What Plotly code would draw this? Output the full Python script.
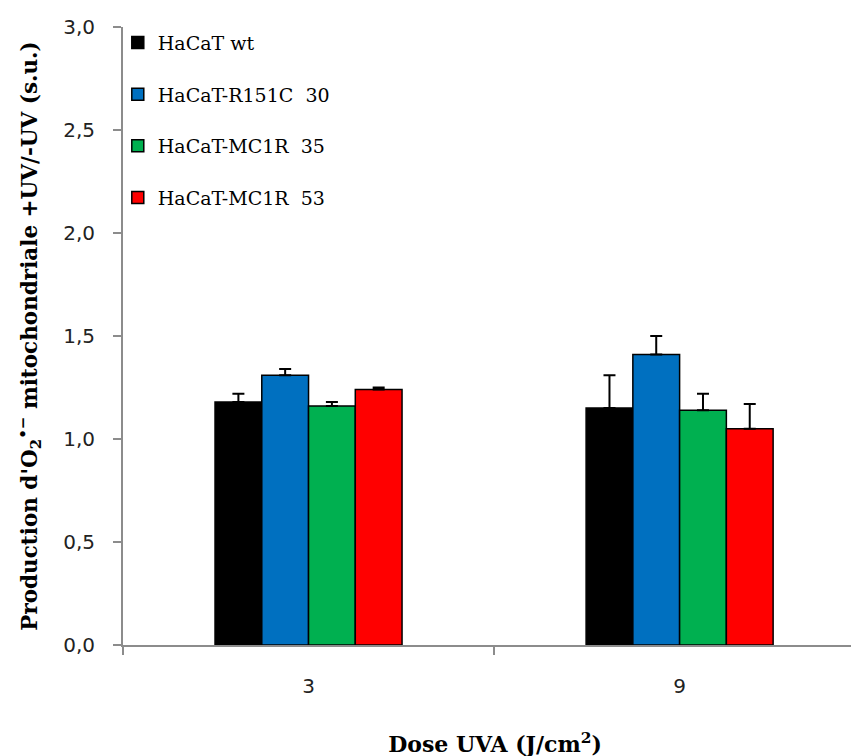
import plotly.graph_objects as go

categories = ["3", "9"]
series_names = ["HaCaT wt", "HaCaT-R151C  30", "HaCaT-MC1R  35", "HaCaT-MC1R  53"]
colors = ["#000000", "#0070C0", "#00B050", "#FF0000"]
values = [
    [1.18, 1.15],
    [1.31, 1.41],
    [1.16, 1.14],
    [1.24, 1.05],
]
errors = [
    [0.04, 0.16],
    [0.03, 0.09],
    [0.02, 0.08],
    [0.01, 0.12],
]

fig = go.Figure()
for i, name in enumerate(series_names):
    fig.add_trace(go.Bar(
        x=categories, y=values[i], name=name,
        marker=dict(color=colors[i], line=dict(color="#000000", width=1.5)),
        error_y=dict(type="data", array=errors[i], arrayminus=[0, 0], symmetric=False,
                     color="#000000", thickness=2, width=6),
        legendgroup=f"g{i}",
    ))

serif = "DejaVu Serif"
tickfont = dict(family="DejaVu Sans", size=20, color="#222222")
fig.update_layout(
    width=859, height=756,
    margin=dict(l=115, r=0, t=19, b=119),
    paper_bgcolor="white", plot_bgcolor="white",
    barmode="group", bargap=0.496, bargroupgap=0,
    separators=", ",
    showlegend=True,
    legend=dict(x=-0.007, y=1.0055, xanchor="left", yanchor="top",
                font=dict(family=serif, size=19, color="#000000"),
                tracegroupgap=24, itemwidth=30, bgcolor="rgba(0,0,0,0)"),
    xaxis=dict(
        type="category", range=[-0.5, 1.505], automargin=False,
        showline=True, linecolor="#8c8c8c", linewidth=2,
        ticks="outside", tickson="boundaries", ticklen=8, tickcolor="#8c8c8c", tickwidth=2,
        tickfont=tickfont, ticklabelstandoff=22,
        showgrid=False, zeroline=False,
        title=dict(text="<b>Dose UVA (J/cm<sup>2</sup>)</b>",
                   font=dict(family=serif, size=22, color="#000000"), standoff=40),
    ),
    yaxis=dict(
        range=[0, 3.0], dtick=0.5, tickformat=".1f", automargin=False,
        showline=True, linecolor="#8c8c8c", linewidth=2,
        ticks="outside", ticklen=8, tickcolor="#8c8c8c", tickwidth=2,
        tickfont=tickfont, ticklabelstandoff=14,
        showgrid=False, zeroline=False,
        title=dict(text="<b>Production d'O<sub>2</sub><sup>•−</sup> mitochondriale +UV/-UV (s.u.)</b>",
                   font=dict(family=serif, size=21.5, color="#000000"), standoff=20),
    ),
)
fig.write_html("out.html")
